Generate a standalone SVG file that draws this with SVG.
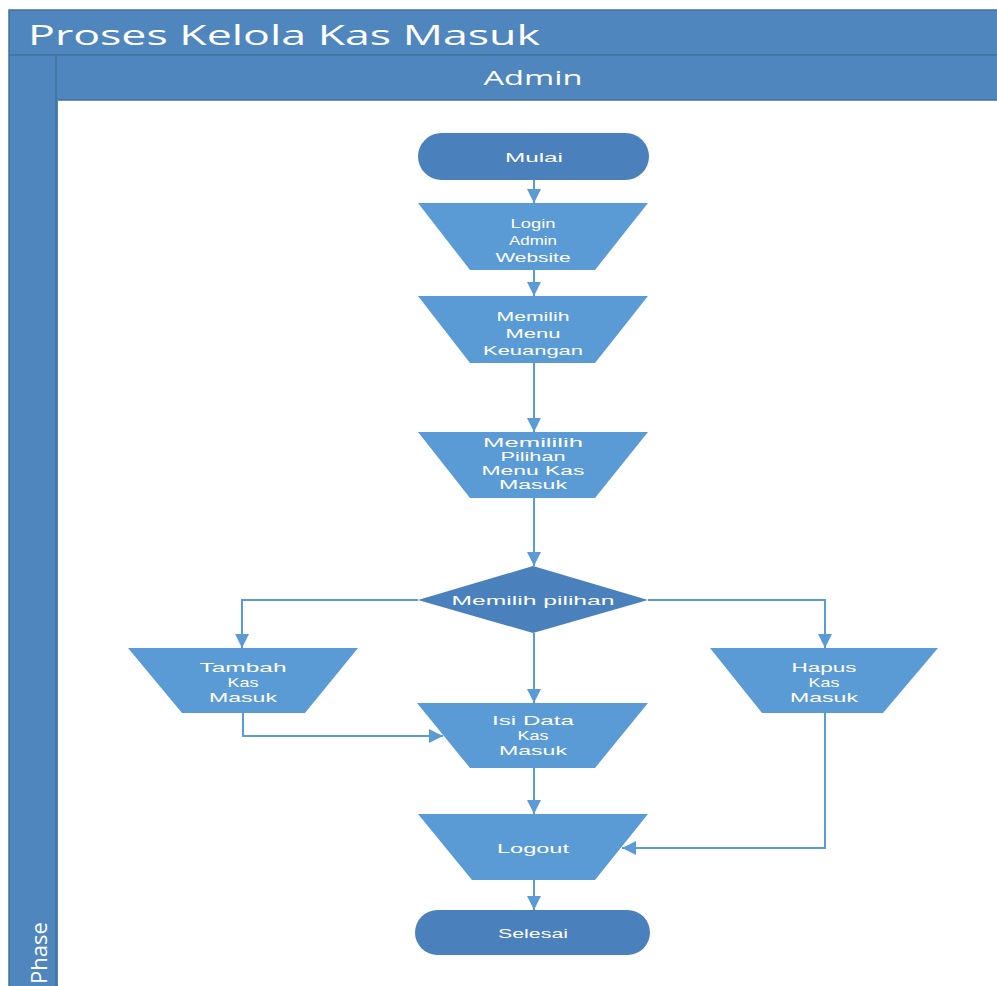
<svg xmlns="http://www.w3.org/2000/svg" width="997" height="986" viewBox="0 0 997 986">
<defs>
<style>
.frame{fill:#4F86BD;stroke:#41719C;stroke-width:1.5}
.sep{stroke:#41719C;stroke-width:1.5;fill:none}
.trap{fill:#5B9BD5}
.dark{fill:#4A80BC}
.lbl{font-family:"Liberation Sans",Arial,sans-serif;font-size:13px;fill:#FFFFFF;text-anchor:middle}
.sm{font-size:12px}
.hdr{font-family:"Open Sans","Liberation Sans",sans-serif;fill:#FFFFFF}
.conn{fill:none;stroke:#5B9BD5;stroke-width:2}
</style>
<marker id="arr" markerUnits="userSpaceOnUse" markerWidth="16" markerHeight="16" refX="14" refY="7" orient="auto">
<path d="M0,0 L14,7 L0,14 Z" fill="#5B9BD5"/>
</marker>
</defs>
<rect width="997" height="986" fill="#FFFFFF"/>
<g id="pool">
<rect class="frame" x="9" y="10" width="1000" height="990"/>
<rect x="58" y="100" width="945" height="890" fill="#FFFFFF"/>
<line class="sep" x1="9" y1="55" x2="997" y2="55"/>
<line class="sep" x1="56" y1="55" x2="56" y2="986"/>
<line class="sep" x1="58" y1="100" x2="997" y2="100"/>
<text class="hdr" x="28" y="45" font-size="28" textLength="512" lengthAdjust="spacingAndGlyphs">Proses Kelola Kas Masuk</text>
<text class="hdr" x="533" y="85" font-size="20" text-anchor="middle" textLength="99" lengthAdjust="spacingAndGlyphs">Admin</text>
<text class="hdr" font-size="22" transform="translate(47,984) rotate(-90)">Phase</text>
</g>
<g id="connectors">
<path class="conn" d="M534,180 V203" marker-end="url(#arr)"/>
<path class="conn" d="M534,270 V296" marker-end="url(#arr)"/>
<path class="conn" d="M534,363 V432" marker-end="url(#arr)"/>
<path class="conn" d="M534,498 V566" marker-end="url(#arr)"/>
<path class="conn" d="M418,600 H242 V648" marker-end="url(#arr)"/>
<path class="conn" d="M648,600 H825 V648" marker-end="url(#arr)"/>
<path class="conn" d="M534,633 V703" marker-end="url(#arr)"/>
<path class="conn" d="M243,713 V736 H443" marker-end="url(#arr)"/>
<path class="conn" d="M534,768 V814" marker-end="url(#arr)"/>
<path class="conn" d="M825,713 V848 H622" marker-end="url(#arr)"/>
<path class="conn" d="M534,880 V910" marker-end="url(#arr)"/>
</g>
<g id="mulai">
<rect class="dark" x="418" y="133" width="231" height="47" rx="23.5"/>
<text class="lbl" x="534" y="162" textLength="58" lengthAdjust="spacingAndGlyphs">Mulai</text>
</g>
<g id="login">
<polygon class="trap" points="418,203 648,203 595,270 470,270"/>
<text class="lbl" x="533" y="228" textLength="45" lengthAdjust="spacingAndGlyphs">Login</text>
<text class="lbl" x="533" y="245" textLength="48" lengthAdjust="spacingAndGlyphs">Admin</text>
<text class="lbl" x="533" y="262" textLength="75" lengthAdjust="spacingAndGlyphs">Website</text>
</g>
<g id="menu-keuangan">
<polygon class="trap" points="418,296 648,296 595,363 470,363"/>
<text class="lbl" x="533" y="321" textLength="73" lengthAdjust="spacingAndGlyphs">Memilih</text>
<text class="lbl" x="533" y="338" textLength="55" lengthAdjust="spacingAndGlyphs">Menu</text>
<text class="lbl" x="533" y="355" textLength="100" lengthAdjust="spacingAndGlyphs">Keuangan</text>
</g>
<g id="menu-kas-masuk">
<polygon class="trap" points="418,432 648,432 595,498 470,498"/>
<text class="lbl sm" x="533" y="447" textLength="100" lengthAdjust="spacingAndGlyphs">Memililih</text>
<text class="lbl sm" x="533" y="461" textLength="65" lengthAdjust="spacingAndGlyphs">Pilihan</text>
<text class="lbl sm" x="533" y="475" textLength="103" lengthAdjust="spacingAndGlyphs">Menu Kas</text>
<text class="lbl sm" x="533" y="489" textLength="68" lengthAdjust="spacingAndGlyphs">Masuk</text>
</g>
<g id="pilihan">
<polygon class="dark" points="533,566 648,600 533,633 418,600"/>
<text class="lbl" x="533" y="605" textLength="163" lengthAdjust="spacingAndGlyphs">Memilih pilihan</text>
</g>
<g id="tambah">
<polygon class="trap" points="128,648 358,648 305,713 182,713"/>
<text class="lbl" x="243" y="672" textLength="87" lengthAdjust="spacingAndGlyphs">Tambah</text>
<text class="lbl" x="243" y="687" textLength="31" lengthAdjust="spacingAndGlyphs">Kas</text>
<text class="lbl" x="243" y="702" textLength="68" lengthAdjust="spacingAndGlyphs">Masuk</text>
</g>
<g id="isi-data">
<polygon class="trap" points="417,703 648,703 595,768 470,768"/>
<text class="lbl" x="533" y="725" textLength="82" lengthAdjust="spacingAndGlyphs">Isi Data</text>
<text class="lbl" x="533" y="740" textLength="31" lengthAdjust="spacingAndGlyphs">Kas</text>
<text class="lbl" x="533" y="755" textLength="68" lengthAdjust="spacingAndGlyphs">Masuk</text>
</g>
<g id="hapus">
<polygon class="trap" points="710,648 938,648 883,713 762,713"/>
<text class="lbl" x="824" y="672" textLength="65" lengthAdjust="spacingAndGlyphs">Hapus</text>
<text class="lbl" x="824" y="687" textLength="31" lengthAdjust="spacingAndGlyphs">Kas</text>
<text class="lbl" x="824" y="702" textLength="68" lengthAdjust="spacingAndGlyphs">Masuk</text>
</g>
<g id="logout">
<polygon class="trap" points="418,814 648,814 595,880 472,880"/>
<text class="lbl" x="533" y="853" textLength="72" lengthAdjust="spacingAndGlyphs">Logout</text>
</g>
<g id="selesai">
<rect class="dark" x="415" y="910" width="235" height="45" rx="22.5"/>
<text class="lbl" x="533" y="938" textLength="70" lengthAdjust="spacingAndGlyphs">Selesai</text>
</g>
</svg>
